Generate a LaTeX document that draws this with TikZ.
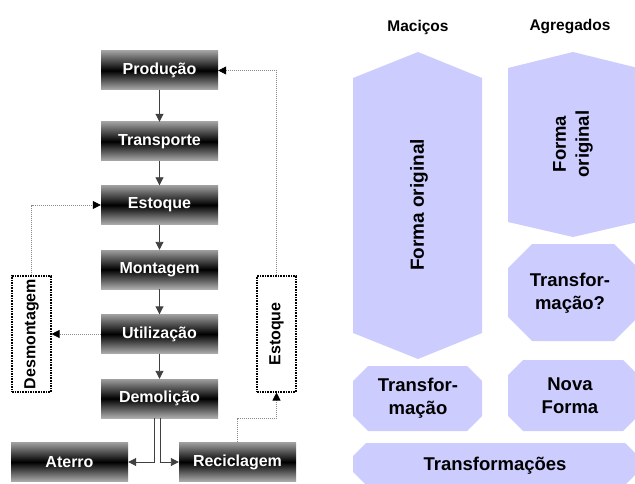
\documentclass[tikz,border=0pt]{standalone}
\usepackage{fontspec}
\setmainfont{Liberation Sans}
\usepackage{graphicx}
\usetikzlibrary{arrows.meta}
\definecolor{lav}{HTML}{CCCCFF}
\begin{document}
\begin{tikzpicture}[x=1pt,y=-1pt,
  gbox/.style={minimum width=117pt,minimum height=39pt,inner sep=0pt,
    top color=black!38,bottom color=black!32,middle color=black,
    text=white,font=\bfseries\fontsize{16}{18}\selectfont},
  dbox/.style={draw=black,line width=1.1pt,dash pattern=on 1.6pt off 1pt,
    minimum width=39pt,minimum height=116pt,inner sep=0pt,
    font=\bfseries\fontsize{16}{18}\selectfont},
  solidarr/.style={draw=black!75,line width=0.9pt,-{Triangle[length=8pt,width=8pt]}},
  dotarr/.style={draw=black!45,line width=0.8pt,dash pattern=on 1pt off 1pt,
    -{Triangle[length=8pt,width=8pt,fill=black,color=black]}},
  dotline/.style={draw=black!45,line width=0.8pt,dash pattern=on 1pt off 1pt},
  head/.style={font=\bfseries\fontsize{15.5}{18}\selectfont},
  ptxt/.style={font=\bfseries\fontsize{18.5}{23}\selectfont,align=center,inner sep=0pt},
  pshape/.style={fill=lav}
]
\useasboundingbox (0,0) rectangle (635,484);
\clip (0,0) rectangle (635,484);

% left flow
\node[gbox] (prod)  at (159.5,70.5)  {Produção};
\node[gbox] (trans) at (159.5,141.5) {Transporte};
\node[gbox] (estq)  at (159.5,205)   {Estoque};
\node[gbox] (mont)  at (159.5,269.5) {Montagem};
\node[gbox] (util)  at (159.5,334)   {Utilização};
\node[gbox] (demol) at (159.5,398.5) {Demolição};
\node[gbox] (ater)  at (69.5,462)    {Aterro};
\node[gbox] (recic) at (237.5,462)   {Reciclagem};
\node[dbox] (desm)  at (31.5,334)  {\rotatebox{90}{Desmontagem}};
\node[dbox] (estb)  at (276.5,334) {\rotatebox{90}{Estoque}};

\draw[solidarr] (prod) -- (trans);
\draw[solidarr] (trans) -- (estq);
\draw[solidarr] (estq) -- (mont);
\draw[solidarr] (mont) -- (util);
\draw[solidarr] (util) -- (demol);
\draw[solidarr] ([xshift=-5.5pt]demol.south) |- (ater.east);
\draw[solidarr] ([xshift=0.5pt]demol.south) |- (recic.west);

\draw[dotarr] (util.west) -- (desm.east);
\draw[dotarr] (desm.north) |- (estq.west);
\coordinate (rbend) at (237.5,418);
\draw[dotline] (recic.north) -- (rbend);
\draw[dotarr] (rbend) -| (estb.south);
\draw[dotarr] (estb.north) |- (prod.east);

% right side
\node[head] (hmac) at (418,27) {Maciços};
\node[head] (hagr) at (570,27) {Agregados};

\fill[pshape] (353,78) -- (418,52) -- (482,78) -- (482,333) -- (418,359) -- (353,333) -- cycle;
\node[ptxt,rotate=90,font=\bfseries\fontsize{19}{23}\selectfont] (fo1) at (419,205) {Forma original};

\fill[pshape] (508,68) -- (573,52) -- (638,68) -- (638,222) -- (573,237) -- (508,222) -- cycle;
\node[ptxt,rotate=90] (fo2) at (573,144) {Forma\\original};

\fill[pshape] (532,244) -- (614,244) -- (638,268) -- (638,317) -- (614,341) -- (532,341) -- (508,317) -- (508,268) -- cycle;
\node[ptxt] (tq) at (570,293) {Transfor-\\mação?};

\fill[pshape] (368,366) -- (467,366) -- (482,381) -- (482,416) -- (467,431) -- (368,431) -- (353,416) -- (353,381) -- cycle;
\node[ptxt] (tm) at (418,398) {Transfor-\\mação};

\fill[pshape] (523,360) -- (623,360) -- (638,375) -- (638,416) -- (623,431) -- (523,431) -- (508,416) -- (508,375) -- cycle;
\node[ptxt] (nf) at (570,396) {Nova\\Forma};

\fill[pshape] (366,443) -- (625,443) -- (638,456) -- (638,472) -- (625,485) -- (366,485) -- (353,472) -- (353,456) -- cycle;
\node[ptxt] (tfs) at (495,466) {Transformações};
\end{tikzpicture}
\end{document}
